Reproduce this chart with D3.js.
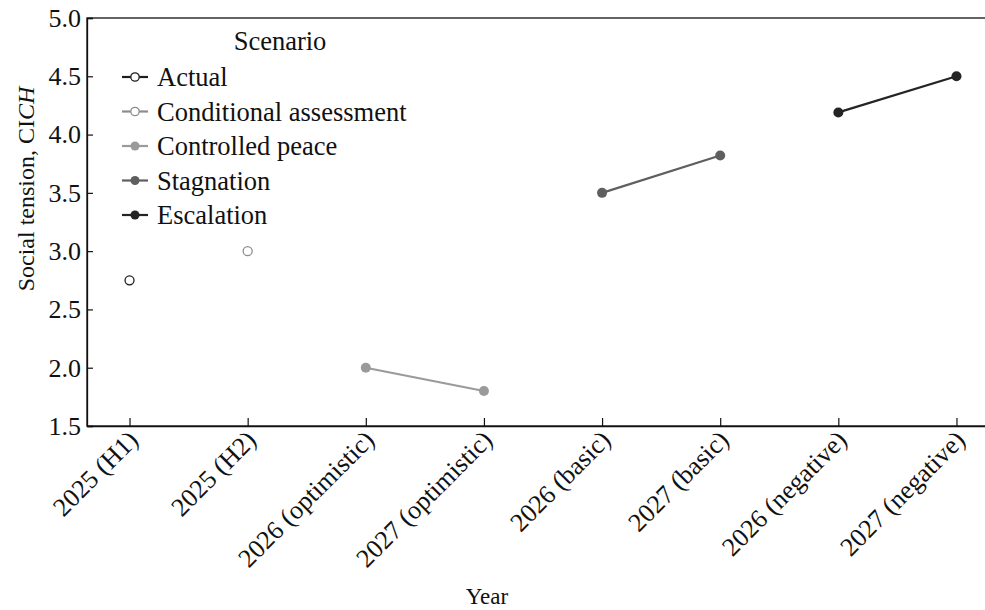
<!DOCTYPE html>
<html lang="en">
<head>
<meta charset="utf-8">
<style>
  body { margin: 0; background: #fff; }
  svg { font-family: "Liberation Serif", "DejaVu Serif", serif; }
  .axis path, .axis line { stroke: #111; }
  .axis text { fill: #111; font-size: 26px; font-family: "Liberation Serif", serif; }
</style>
<script src="https://d3js.org/d3.v7.min.js"></script>
</head>
<body>
<script>
var width = 985, height = 610;

// categories on the x axis
var categories = ["2025 (H1)", "2025 (H2)", "2026 (optimistic)", "2027 (optimistic)",
                  "2026 (basic)", "2027 (basic)", "2026 (negative)", "2027 (negative)"];
var yTicks = [1.5, 2.0, 2.5, 3.0, 3.5, 4.0, 4.5, 5.0];

// series
var scenarios = ["Actual", "Conditional assessment", "Controlled peace", "Stagnation", "Escalation"];
var actual      = [["2025 (H1)", 2.75]];
var conditional = [["2025 (H2)", 3.0]];
var peace       = [["2026 (optimistic)", 2.0], ["2027 (optimistic)", 1.8]];
var stagnation  = [["2026 (basic)", 3.5], ["2027 (basic)", 3.82]];
var escalation  = [["2026 (negative)", 4.19], ["2027 (negative)", 4.5]];

var colors = ["#1e1e1e", "#8c8c8c", "#9a9a9a", "#5f5f5f", "#222426"];
var hollow = [true, true, false, false, false];
var seriesData = [actual, conditional, peace, stagnation, escalation];

var margin = {left: 87, top: 18};
var plotRight = 999;

var svg = d3.select("body").append("svg")
  .attr("width", width)
  .attr("height", height);

var x = d3.scalePoint()
  .domain(categories)
  .range([margin.left, plotRight])
  .padding(0.36);

var y = d3.scaleLinear()
  .domain([1.5, 5.0])
  .range([426, margin.top]);

// frame (top line; right edge falls outside the picture)
svg.append("rect")
  .attr("x", margin.left).attr("y", y(5.0))
  .attr("width", plotRight - margin.left).attr("height", y(1.5) - y(5.0))
  .attr("fill", "none").attr("stroke", "#111").attr("stroke-width", 1.3);

// y axis
var gy = svg.append("g").attr("class", "axis")
  .attr("transform", "translate(" + margin.left + ",0)")
  .call(d3.axisLeft(y).tickValues(yTicks).tickFormat(d3.format(".1f")).tickSize(-6).tickPadding(6));
gy.select(".domain").attr("stroke-width", 1.3);
gy.selectAll(".tick line").attr("stroke-width", 1.2);

// x axis
var gx = svg.append("g").attr("class", "axis")
  .attr("transform", "translate(0," + y(1.5) + ")")
  .call(d3.axisBottom(x).tickSize(-8).tickSizeOuter(0));
gx.select(".domain").attr("stroke-width", 1.3);
gx.selectAll(".tick line").attr("stroke-width", 1.2);
gx.selectAll(".tick text")
  .attr("text-anchor", "end")
  .attr("dy", "0.35em")
  .attr("transform", "translate(1,7) rotate(-45)");

// axis titles
svg.append("text")
  .attr("x", 487).attr("y", 604)
  .attr("text-anchor", "middle")
  .attr("font-size", 23).attr("fill", "#111")
  .text("Year");

var yt = svg.append("text")
  .attr("transform", "translate(34,189) rotate(-90)")
  .attr("text-anchor", "middle")
  .attr("font-size", 24).attr("fill", "#111");
yt.append("tspan").text("Social tension, CI");
yt.append("tspan").attr("font-style", "italic").text("CH");

// lines and points
var line = d3.line()
  .x(function(d) { return x(d[0]); })
  .y(function(d) { return y(d[1]); });

seriesData.forEach(function(s, i) {
  var g = svg.append("g");
  if (s.length > 1) {
    g.append("path").datum(s)
      .attr("d", line)
      .attr("fill", "none")
      .attr("stroke", colors[i])
      .attr("stroke-width", 2.2);
  }
  g.selectAll("circle").data(s).enter().append("circle")
    .attr("cx", function(d) { return x(d[0]); })
    .attr("cy", function(d) { return y(d[1]); })
    .attr("r", hollow[i] ? 4.5 : 5)
    .attr("fill", hollow[i] ? "#fff" : colors[i])
    .attr("stroke", colors[i])
    .attr("stroke-width", hollow[i] ? 1.3 : 0);
});

// legend
var legend = svg.append("g");
legend.append("text")
  .attr("x", 280).attr("y", 50)
  .attr("text-anchor", "middle")
  .attr("font-size", 26.5).attr("fill", "#111")
  .text("Scenario");

var items = legend.selectAll("g.item").data(scenarios).enter().append("g")
  .attr("class", "item")
  .attr("transform", function(d, i) { return "translate(0," + (77 + i * 34.5) + ")"; });
items.append("line")
  .attr("x1", 122).attr("x2", 148)
  .attr("stroke", function(d, i) { return colors[i]; })
  .attr("stroke-width", 2.2);
items.append("circle")
  .attr("cx", 135).attr("r", function(d, i) { return hollow[i] ? 4.2 : 4.5; })
  .attr("fill", function(d, i) { return hollow[i] ? "#fff" : colors[i]; })
  .attr("stroke", function(d, i) { return colors[i]; })
  .attr("stroke-width", function(d, i) { return hollow[i] ? 1.3 : 0; });
items.append("text")
  .attr("x", 157).attr("dy", "0.35em")
  .attr("font-size", 26.5).attr("fill", "#111")
  .text(function(d) { return d; });
</script>
</body>
</html>
